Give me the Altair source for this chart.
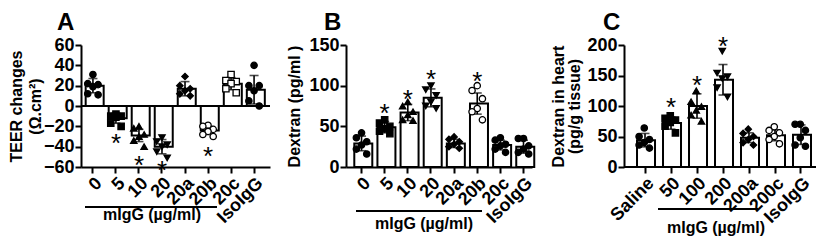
import altair as alt
import pandas as pd

FONT = "Liberation Sans"

# ---------------- Panel A ----------------
a_groups = ["0", "5", "10", "20", "20a", "20b", "20c", "IsoIgG"]
a_mean = [20, -12, -29, -40, 17, -24, 22, 16]
a_sd = [7, 5, 6, 7, 7, 4, 6, 14]
a_points = [
    [31, 22, 21, 19, 12, 11],
    [-8, -10, -10, -11, -17, -20],
    [-20, -22, -28, -30, -34, -40],
    [-31, -35, -38, -40, -45, -51],
    [29, 20, 17, 15, 12, 10],
    [-19, -20, -23, -25, -28, -30],
    [31, 25, 24, 22, 17, 13],
    [40, 20, 20, 15, 5, 0],
]
a_shapes = ["circle", "square", "triangle-up", "triangle-down", "diamond", "circle", "square", "circle"]
a_filled = [True, True, True, True, True, False, False, True]
a_star_groups = ["5", "10", "20", "20b"]
a_star_y = [-31, -53, -58, -44]
a_ticks = [-60, -40, -20, 0, 20, 40, 60]

# ---------------- Panel B ----------------
b_groups = ["0", "5", "10", "20", "20a", "20b", "20c", "IsoIgG"]
b_mean = [29, 49, 67, 85, 29, 78, 27, 25]
b_sd = [9, 7, 10, 11, 5, 13, 6, 8]
b_points = [
    [42, 36, 31, 27, 22, 16],
    [58, 54, 50, 47, 44, 41],
    [80, 75, 68, 64, 58, 57],
    [100, 95, 88, 80, 75, 72],
    [37, 34, 31, 28, 25, 23],
    [100, 94, 84, 72, 68, 58],
    [36, 33, 28, 26, 22, 18],
    [35, 35, 26, 22, 18, 16],
]
b_shapes = ["circle", "square", "triangle-up", "triangle-down", "diamond", "circle", "circle", "circle"]
b_filled = [True, True, True, True, True, False, True, True]
b_star_groups = ["5", "10", "20", "20b"]
b_star_y = [72, 90, 114, 112]
b_ticks = [0, 50, 100, 150]

# ---------------- Panel C ----------------
c_groups = ["Saline", "50", "100", "200", "200a", "200c", "IsoIgG"]
c_mean = [44, 72, 100, 143, 48, 52, 53]
c_sd = [11, 10, 20, 25, 8, 9, 16]
c_points = [
    [64, 50, 45, 40, 36, 31],
    [84, 80, 77, 73, 67, 56],
    [125, 107, 99, 93, 85, 75],
    [190, 154, 148, 145, 130, 115],
    [62, 55, 50, 45, 40, 36],
    [66, 60, 56, 50, 45, 38],
    [70, 70, 60, 48, 36, 34],
]
c_shapes = ["circle", "square", "triangle-up", "triangle-down", "diamond", "circle", "circle"]
c_filled = [True, True, True, True, True, False, True]
c_star_groups = ["50", "100", "200"]
c_star_y = [107, 142, 206]
c_ticks = [0, 50, 100, 150, 200]

JIT = ["C", "L", "R", "C", "L", "R"]


def panel(groups, mean, sd, points, shapes, filled, star_g, star_y,
          ydom, yvals, ytitle, title_lh, title_pad, width, height, inset, xpad, letter,
          bracket, label_pos, zero_rule=False):
    summ = pd.DataFrame({
        "g": groups, "m": mean,
        "lo": [m - s for m, s in zip(mean, sd)],
        "hi": [m + s for m, s in zip(mean, sd)],
    })
    rows = []
    for g, pts, shp, f in zip(groups, points, shapes, filled):
        for i, v in enumerate(pts):
            rows.append({"g": g, "v": v, "pos": JIT[i], "shape": shp,
                         "fill": "black" if f else "white"})
    pts_df = pd.DataFrame(rows)
    star_df = pd.DataFrame({"g": star_g, "v": star_y})
    ann = pd.DataFrame({"k": [0]})

    pi, po, al = xpad
    xscale = alt.Scale(domain=groups, paddingInner=pi, paddingOuter=po, align=al,
                       range=[inset, inset + width])
    xaxis = alt.Axis(title=None, labelAngle=-45, domain=(inset == 0), domainWidth=2,
                     domainColor="black", tickWidth=2, tickSize=6, tickColor="black",
                     labelFont=FONT, labelFontSize=18, labelFontWeight="bold",
                     labelColor="black", labelPadding=1, labelOverlap=False)
    yscale = alt.Scale(domain=ydom, nice=False, zero=False)
    yaxis = alt.Axis(values=yvals, tickCount=len(yvals), title=ytitle, grid=False,
                     domainWidth=2, domainColor="black", tickWidth=2, tickSize=6,
                     tickColor="black", labelFont=FONT, labelFontSize=18,
                     labelFontWeight="bold", labelColor="black", labelPadding=1,
                     offset=-inset, labelOverlap=False, labelSeparation=0,
                     titleFont=FONT, titleFontSize=16, titleFontWeight="bold",
                     titleColor="black", titleLineHeight=title_lh, titlePadding=title_pad)

    def Y(field):
        return alt.Y(field, scale=yscale, axis=yaxis)

    x = alt.X("g:N", scale=xscale, axis=xaxis, sort=groups)
    base = alt.Chart(summ)
    bars = base.mark_bar(fill="white", stroke="black", strokeWidth=2).encode(
        x=x, y=Y("m:Q"), y2=alt.datum(0))
    err = base.mark_rule(color="black", strokeWidth=1.6).encode(
        x=x, y=Y("lo:Q"), y2="hi:Q")
    cap_hi = base.mark_tick(color="black", size=9, thickness=1.6).encode(
        x=x, y=Y("hi:Q"))
    cap_lo = base.mark_tick(color="black", size=9, thickness=1.6).encode(
        x=x, y=Y("lo:Q"))
    dots = alt.Chart(pts_df).mark_point(filled=True, stroke="black", strokeWidth=1.3,
                                        size=40, opacity=1).encode(
        x=x,
        xOffset=alt.XOffset("pos:N", scale=alt.Scale(domain=["L", "C", "R"], paddingOuter=0.4)),
        y=Y("v:Q"),
        shape=alt.Shape("shape:N", scale=None),
        fill=alt.Fill("fill:N", scale=None),
    )
    stars = alt.Chart(star_df).mark_text(text="*", font=FONT, fontSize=26,
                                         baseline="alphabetic", dy=14, color="black").encode(
        x=x, y=Y("v:Q"))

    layers = [bars]
    if zero_rule:
        layers.append(alt.Chart(pd.DataFrame({"z": [0]})).mark_rule(
            color="black", strokeWidth=2).encode(y=Y("z:Q")))
    layers += [err, cap_hi, cap_lo, dots, stars]
    if inset:
        layers.append(alt.Chart(ann).mark_rule(color="black", strokeWidth=2).encode(
            x=alt.value(inset), x2=alt.value(inset + width), y=alt.value(height)))
    bx1, bx2, by = bracket
    layers.append(alt.Chart(ann).mark_rule(color="black", strokeWidth=2).encode(
        x=alt.value(inset + bx1), x2=alt.value(inset + bx2), y=alt.value(by)))
    lx, ly = label_pos
    layers.append(alt.Chart(ann).mark_text(text="mIgG (µg/ml)", font=FONT, fontSize=16,
                                           fontWeight="bold", align="center",
                                           baseline="alphabetic", color="black").encode(
        x=alt.value(inset + lx), y=alt.value(ly)))
    ltx, lty = letter[1]
    # invisible guard so the panel letter's full text box stays inside the page
    layers.append(alt.Chart(ann).mark_rule(strokeOpacity=0, strokeWidth=1).encode(
        x=alt.value(inset + ltx), x2=alt.value(inset + ltx + 5), y=alt.value(lty - 3)))
    layers.append(alt.Chart(ann).mark_text(text=letter[0], font=FONT, fontSize=24,
                                           fontWeight="bold", align="left",
                                           baseline="top", color="black").encode(
        x=alt.value(inset + ltx), y=alt.value(lty)))
    return alt.layer(*layers).properties(width=inset + width, height=height)


H = 122
pa = panel(a_groups, a_mean, a_sd, a_points, a_shapes, a_filled, a_star_groups, a_star_y,
           [-60, 60], a_ticks, ["TEER changes", "(Ω.cm²)"], 19, 0,
           189, H, 0, (0.37, 0.29, 0.35), ("A", (-24, -34)), (4, 136, 162), (71, 175),
           zero_rule=True)
pb = panel(b_groups, b_mean, b_sd, b_points, b_shapes, b_filled, b_star_groups, b_star_y,
           [0, 150], b_ticks, "Dextran (pg/ml )", 18, 6,
           186, H, 0, (0.373, 0.206, 0.87), ("B", (-22, -34)), (10, 136, 166), (78, 184))
pc = panel(c_groups, c_mean, c_sd, c_points, c_shapes, c_filled, c_star_groups, c_star_y,
           [0, 200], c_ticks, ["Dextran in heart", "(pg/g tissue)"], 16, 4,
           192, H, 16, (0.385, 0.385, 0.65), ("C", (-21, -34)), (34, 134, 164), (92, 188))

chart = alt.hconcat(pa, pb, pc, spacing=76, bounds="flush").properties(
    padding=0
).configure_view(stroke=None).configure_axis(labelOverlap=False)

chart.save("out.html", embed_options={"renderer": "svg", "actions": False})
